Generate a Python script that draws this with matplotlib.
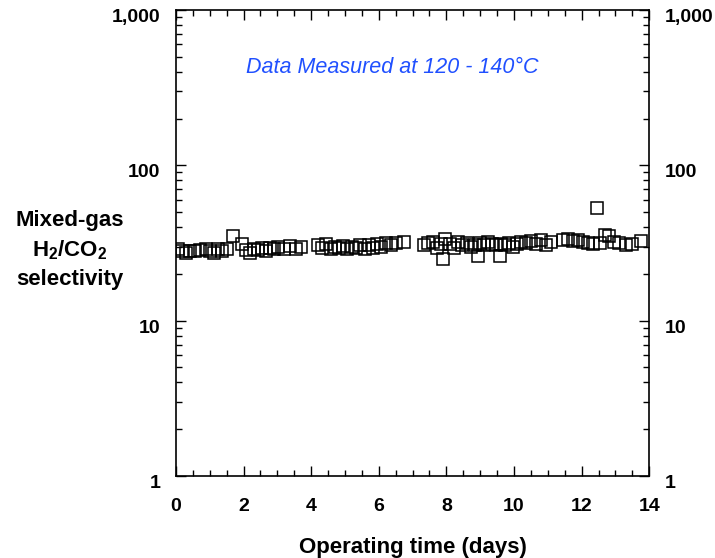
import numpy as np
import matplotlib.pyplot as plt
from matplotlib.ticker import FixedLocator, FixedFormatter, LogLocator, NullFormatter
import matplotlib.transforms as mtransforms

plt.rcParams['font.family'] = ['Liberation Sans', 'DejaVu Sans']
plt.rcParams['font.weight'] = 'bold'
plt.rcParams['mathtext.fontset'] = 'custom'
plt.rcParams['mathtext.rm'] = 'Liberation Sans:bold'
plt.rcParams['mathtext.bf'] = 'Liberation Sans:bold'

# operating time (days) and mixed-gas H2/CO2 selectivity
days = [0.05, 0.17, 0.3, 0.42, 0.58, 0.7, 0.88, 1.0, 1.12, 1.24, 1.36, 1.5, 1.68,
        1.95, 2.07, 2.19, 2.31, 2.43, 2.55, 2.67, 2.79, 2.91, 3.03, 3.2, 3.38, 3.55, 3.7,
        4.2, 4.32, 4.45, 4.58, 4.7, 4.82, 4.95, 5.07, 5.2, 5.32, 5.45, 5.58, 5.7, 5.82,
        5.95, 6.07, 6.2, 6.35, 6.5, 6.75,
        7.35, 7.47, 7.6, 7.72, 7.85, 7.9, 7.97, 8.1, 8.22, 8.35, 8.47, 8.6, 8.72, 8.85,
        8.95, 9.0, 9.1, 9.22, 9.35, 9.47, 9.6, 9.62, 9.72, 9.85, 9.97, 10.1, 10.22,
        10.35, 10.5, 10.65, 10.8, 10.95, 11.1,
        11.45, 11.6, 11.75, 11.9, 12.05, 12.2, 12.35, 12.46, 12.55, 12.7, 12.82, 12.95,
        13.1, 13.3, 13.5, 13.75]
selectivity = [29.0, 28.0, 27.2, 28.0, 28.2, 28.3, 29.0, 28.0, 27.3, 29.0, 28.0, 29.0, 35.0,
               31.0, 28.5, 27.2, 29.0, 28.3, 29.5, 28.0, 29.5, 29.0, 30.0, 29.0, 30.2, 29.0, 30.0,
               30.5, 29.5, 31.0, 28.8, 30.0, 29.2, 30.2, 28.8, 30.0, 29.5, 30.5, 29.0, 30.5, 29.5,
               31.0, 30.0, 31.5, 30.5, 31.5, 32.0,
               30.5, 31.5, 32.0, 29.5, 31.0, 24.8, 33.5, 31.0, 29.5, 32.0, 30.5, 31.5, 30.0, 30.5,
               25.9, 31.5, 30.5, 32.0, 31.0, 30.5, 25.9, 31.0, 30.5, 31.5, 30.0, 31.0, 32.0,
               31.5, 32.5, 31.0, 33.0, 30.5, 32.0,
               33.0, 33.5, 32.5, 33.0, 32.0, 31.5, 31.0, 52.8, 31.5, 35.5, 35.0, 32.0,
               31.5, 30.5, 31.0, 32.5]

x_ticks = [0, 2, 4, 6, 8, 10, 12, 14]
y_ticks = [1, 10, 100, 1000]
y_tick_labels = ['1', '10', '100', '1,000']

fig = plt.figure(figsize=(7.15, 5.58), dpi=100)
ax = fig.add_axes([0.246, 0.147, 0.662, 0.835])

ax.plot(days, selectivity, linestyle='none', marker='s', markersize=8.5,
        markerfacecolor='none', markeredgecolor='black', markeredgewidth=1.1)

ax.set_yscale('log')
ax.set_xlim(0, 14)
ax.set_ylim(1, 1000)
ax.xaxis.set_major_locator(FixedLocator(x_ticks))
ax.xaxis.set_minor_locator(FixedLocator(np.arange(0, 14.01, 0.5)))
ax.yaxis.set_major_locator(FixedLocator(y_ticks))
ax.yaxis.set_major_formatter(FixedFormatter(y_tick_labels))
ax.yaxis.set_minor_locator(LogLocator(base=10, subs=np.arange(2, 10)))
ax.yaxis.set_minor_formatter(NullFormatter())

ax.tick_params(which='both', direction='in', top=True, right=True,
               labelright=True, width=1.0, labelsize=14)
ax.tick_params(which='major', length=7)
ax.tick_params(which='minor', length=4)
ax.tick_params(axis='x', pad=16)
ax.tick_params(axis='y', pad=11)
for s in ax.spines.values():
    s.set_linewidth(1.2)

# y tick labels sit a little below their ticks in the original
shift = mtransforms.ScaledTranslation(0, -4 / 72, fig.dpi_scale_trans)
for t in ax.yaxis.get_major_ticks():
    for lab in (t.label1, t.label2):
        lab.set_transform(lab.get_transform() + shift)

ax.set_xlabel('Operating time (days)', fontsize=16, fontweight='bold', labelpad=16)

fig.text(0.098, 0.552, 'Mixed-gas\nH$_{2}$/CO$_{2}$\nselectivity', ha='center', va='center',
         multialignment='center', fontsize=16, fontweight='bold', linespacing=1.45)

ax.text(0.457, 0.876, 'Data Measured at 120 - 140°C', transform=ax.transAxes,
        ha='center', va='center', fontsize=15.5, fontstyle='italic', fontweight='normal',
        color='#2050ff')

fig.savefig('out.png', dpi=100)
